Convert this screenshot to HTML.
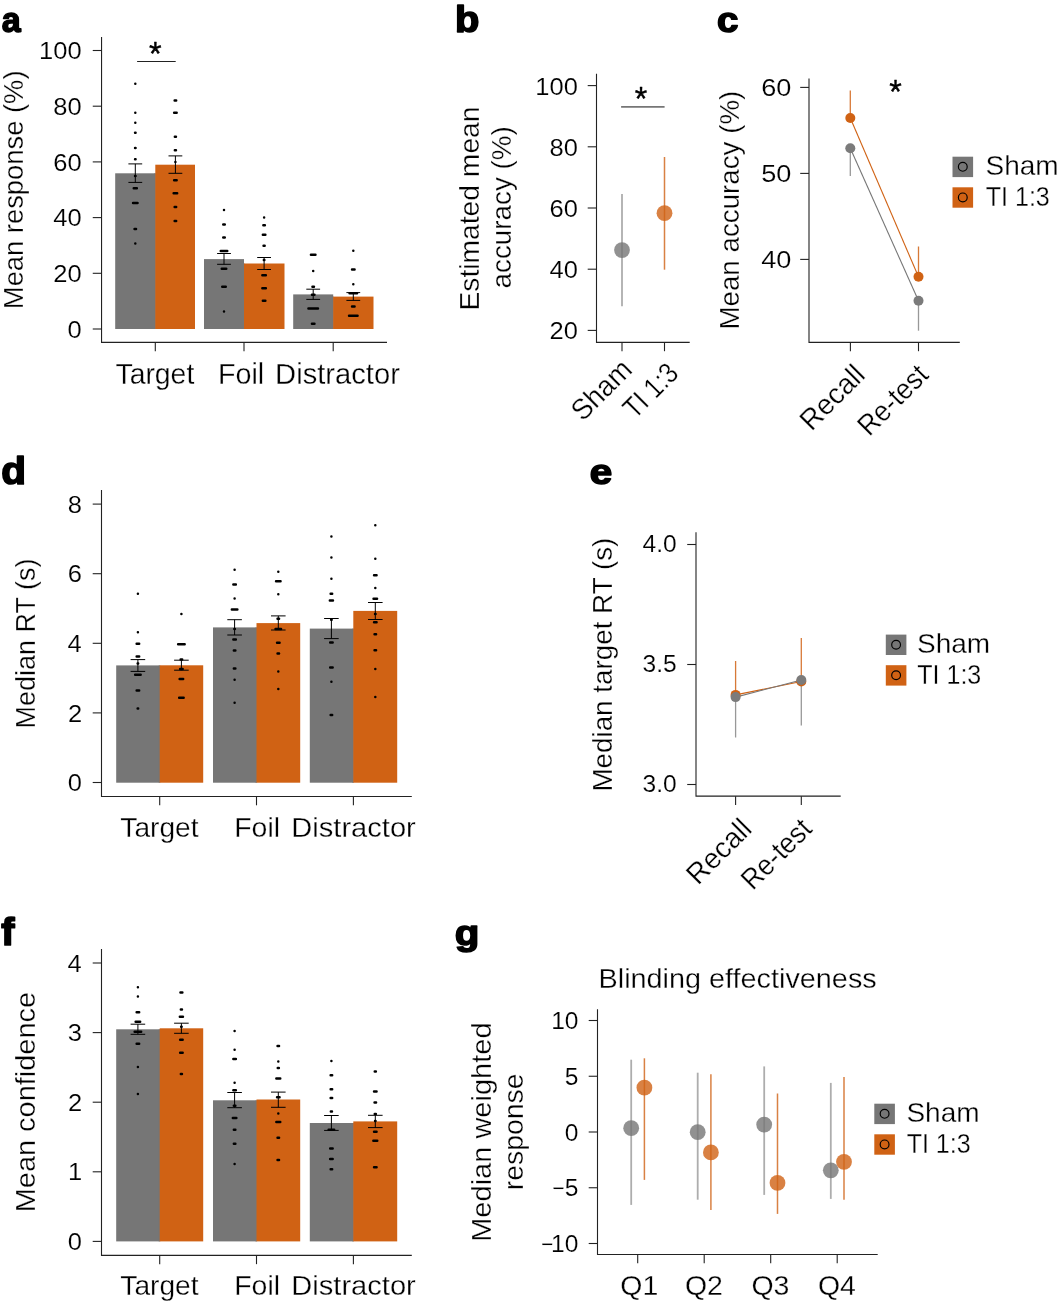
<!DOCTYPE html>
<html lang="en">
<head>
<meta charset="utf-8">
<title>Figure</title>
<style>
html,body{margin:0;padding:0;background:#fff;}
body{width:1058px;height:1302px;overflow:hidden;}
svg{display:block;}
svg text{font-family:"Liberation Sans",sans-serif;fill:#000;}
svg text.t{stroke:#fff;stroke-width:0.3px;}
svg text.k{stroke:#fff;stroke-width:0.14px;}
</style>
</head>
<body>
<svg width="1058" height="1302" viewBox="0 0 1058 1302">
<rect width="1058" height="1302" fill="#fff"/>
<text transform="translate(1.83 32.18) scale(0.9317 0.9591)" font-size="36.5" font-weight="700" stroke="#000" stroke-width="1.6" stroke-linejoin="round">a</text>
<text transform="translate(455.08 32.12) scale(1.0932 1.0131)" font-size="36.5" font-weight="700" stroke="#000" stroke-width="1.6" stroke-linejoin="round">b</text>
<text transform="translate(717 32.23) scale(1.0570 0.9614)" font-size="36.5" font-weight="700" stroke="#000" stroke-width="1.6" stroke-linejoin="round">c</text>
<text transform="translate(1.27 484.38) scale(1.1082 1.0448)" font-size="36.5" font-weight="700" stroke="#000" stroke-width="1.6" stroke-linejoin="round">d</text>
<text transform="translate(589.87 484.07) scale(1.1035 0.9683)" font-size="36.5" font-weight="700" stroke="#000" stroke-width="1.6" stroke-linejoin="round">e</text>
<text transform="translate(1.37 945.44) scale(1.0843 1.0726)" font-size="36.5" font-weight="700" stroke="#000" stroke-width="1.6" stroke-linejoin="round">f</text>
<text transform="translate(454.87 944.93) scale(1.1032 0.9664)" font-size="36.5" font-weight="700" stroke="#000" stroke-width="1.6" stroke-linejoin="round">g</text>
<rect x="115.2" y="173.3" width="40.1" height="155.7" fill="#767676"/>
<rect x="154.3" y="173.3" width="1.6" height="155.7" fill="#767676"/>
<rect x="155.3" y="164.7" width="39.7" height="164.3" fill="#d06214"/>
<rect x="204" y="259.1" width="40" height="69.9" fill="#767676"/>
<rect x="243" y="263.5" width="1.6" height="65.5" fill="#767676"/>
<rect x="244" y="263.5" width="40.5" height="65.5" fill="#d06214"/>
<rect x="293.2" y="294.4" width="40" height="34.6" fill="#767676"/>
<rect x="332.2" y="296.6" width="1.6" height="32.4" fill="#767676"/>
<rect x="333.2" y="296.6" width="40.3" height="32.4" fill="#d06214"/>
<path d="M101.55 37V342.4H387" fill="none" stroke="#222" stroke-width="1.1"/>
<line x1="92.75" y1="329" x2="101.55" y2="329" stroke="#222" stroke-width="1.1"/>
<text transform="translate(67.49 337.6) scale(1.1000 1)" font-size="23.2" class="k">0</text>
<line x1="92.75" y1="273.3" x2="101.55" y2="273.3" stroke="#222" stroke-width="1.1"/>
<text transform="translate(53.33 281.9) scale(1.1000 1)" font-size="23.2" class="k">20</text>
<line x1="92.75" y1="217.6" x2="101.55" y2="217.6" stroke="#222" stroke-width="1.1"/>
<text transform="translate(53.33 226.2) scale(1.1000 1)" font-size="23.2" class="k">40</text>
<line x1="92.75" y1="161.9" x2="101.55" y2="161.9" stroke="#222" stroke-width="1.1"/>
<text transform="translate(53.33 170.5) scale(1.1000 1)" font-size="23.2" class="k">60</text>
<line x1="92.75" y1="106.2" x2="101.55" y2="106.2" stroke="#222" stroke-width="1.1"/>
<text transform="translate(53.33 114.8) scale(1.1000 1)" font-size="23.2" class="k">80</text>
<line x1="92.75" y1="50.5" x2="101.55" y2="50.5" stroke="#222" stroke-width="1.1"/>
<text transform="translate(39.1 59.1) scale(1.1000 1)" font-size="23.2" class="k">100</text>
<line x1="155.3" y1="342.4" x2="155.3" y2="351.2" stroke="#222" stroke-width="1.1"/>
<line x1="244" y1="342.4" x2="244" y2="351.2" stroke="#222" stroke-width="1.1"/>
<line x1="333.2" y1="342.4" x2="333.2" y2="351.2" stroke="#222" stroke-width="1.1"/>
<path d="M128.4 163.9H142.2M128.4 182.4H142.2M135.3 163.9V182.4" fill="none" stroke="#000" stroke-width="1"/>
<path d="M168.5 155.9H182.3M168.5 173.3H182.3M175.4 155.9V173.3" fill="none" stroke="#000" stroke-width="1"/>
<path d="M217.1 253.5H230.9M217.1 264.3H230.9M224 253.5V264.3" fill="none" stroke="#000" stroke-width="1"/>
<path d="M257.2 257.5H271M257.2 269.5H271M264.1 257.5V269.5" fill="none" stroke="#000" stroke-width="1"/>
<path d="M306.3 289.2H320.1M306.3 299.4H320.1M313.2 289.2V299.4" fill="none" stroke="#000" stroke-width="1"/>
<path d="M346.4 292.6H360.2M346.4 300.4H360.2M353.3 292.6V300.4" fill="none" stroke="#000" stroke-width="1"/>
<path d="M135.3 83.76h0.01M135.3 112.81h0.01M135.3 122.83h0.01M135.05 132.85h0.51M135.05 147.88h0.51M135.05 159.3h0.51M135.05 175.93h0.51M133.74 188.36h3.11M133.04 202.98h4.51M134.55 229.03h1.51M135.3 243.46h0.01" fill="none" stroke="#000" stroke-width="2.5" stroke-linecap="round"/>
<path d="M174.65 100.59h1.51M174.15 112.81h2.51M174.85 136.86h1.11M174.85 150.28h1.11M175.4 161.91h0.01M174.15 180.34h2.51M173.64 193.36h3.51M174.65 206.99h1.51M174.65 221.02h1.51" fill="none" stroke="#000" stroke-width="2.5" stroke-linecap="round"/>
<path d="M224 210.02h0.01M223.25 224.45h1.51M223.25 237.47h1.51M220.74 251.1h6.52M221.74 268.73h4.51M222.24 286.76h3.51M224 311.61h0.01" fill="none" stroke="#000" stroke-width="2.5" stroke-linecap="round"/>
<path d="M264.1 217.43h0.01M263.35 225.25h1.51M262.85 234.67h2.51M263.55 245.69h1.11M263.85 259.91h0.51M262.34 275.34h3.51M262.34 288.17h3.51M262.85 300.79h2.51" fill="none" stroke="#000" stroke-width="2.5" stroke-linecap="round"/>
<path d="M310.94 254.7h4.51M313.2 270.93h0.01M312.45 286.76h1.51M311.95 294.78h2.51M308.44 308.6h9.52M311.95 323.83h2.51" fill="none" stroke="#000" stroke-width="2.5" stroke-linecap="round"/>
<path d="M353.3 250.7h0.01M352.05 269.53h2.51M353.3 284.16h0.01M349.54 293.18h7.52M352.05 306.4h2.51M349.04 315.82h8.52" fill="none" stroke="#000" stroke-width="2.5" stroke-linecap="round"/>
<line x1="137.1" y1="61.5" x2="175.7" y2="61.5" stroke="#222" stroke-width="1.2"/>
<text transform="translate(148.93 65.1) scale(0.9641 1)" font-size="33.6" stroke="#000" stroke-width="0.4" stroke-linejoin="round">*</text>
<text transform="translate(115.46 384.3) scale(0.9781 1)" font-size="29" class="t">Target</text>
<text transform="translate(217.93 384.3) scale(0.9903 1)" font-size="29" class="t">Foil</text>
<text transform="translate(275.09 384.3) scale(1.0056 1)" font-size="29" class="t">Distractor</text>
<text transform="translate(23.1 309.16) rotate(-90) scale(0.9774 1)" font-size="28" class="t">Mean response (%)</text>
<path d="M596.5 73.7V342.4H689.7" fill="none" stroke="#222" stroke-width="1.1"/>
<line x1="587.7" y1="330.4" x2="596.5" y2="330.4" stroke="#222" stroke-width="1.1"/>
<text transform="translate(549.53 339.4) scale(1.1000 1)" font-size="23.2" class="k">20</text>
<line x1="587.7" y1="269.2" x2="596.5" y2="269.2" stroke="#222" stroke-width="1.1"/>
<text transform="translate(549.53 278.2) scale(1.1000 1)" font-size="23.2" class="k">40</text>
<line x1="587.7" y1="208" x2="596.5" y2="208" stroke="#222" stroke-width="1.1"/>
<text transform="translate(549.53 217) scale(1.1000 1)" font-size="23.2" class="k">60</text>
<line x1="587.7" y1="146.8" x2="596.5" y2="146.8" stroke="#222" stroke-width="1.1"/>
<text transform="translate(549.53 155.8) scale(1.1000 1)" font-size="23.2" class="k">80</text>
<line x1="587.7" y1="85.6" x2="596.5" y2="85.6" stroke="#222" stroke-width="1.1"/>
<text transform="translate(535.3 94.6) scale(1.1000 1)" font-size="23.2" class="k">100</text>
<line x1="622" y1="342.4" x2="622" y2="351.2" stroke="#222" stroke-width="1.1"/>
<line x1="664.5" y1="342.4" x2="664.5" y2="351.2" stroke="#222" stroke-width="1.1"/>
<line x1="621.1" y1="106.9" x2="664.6" y2="106.9" stroke="#767676" stroke-width="1.8"/>
<text transform="translate(634.64 110.2) scale(0.9557 1)" font-size="33.6" stroke="#000" stroke-width="0.4" stroke-linejoin="round">*</text>
<line x1="622" y1="194" x2="622" y2="306.2" stroke="#767676" stroke-width="1.8" stroke-opacity="0.6"/>
<circle cx="622" cy="250.1" r="7.9" fill="#767676" fill-opacity="0.8"/>
<line x1="664.5" y1="157" x2="664.5" y2="269.7" stroke="#d06214" stroke-width="1.5" stroke-opacity="0.8"/>
<circle cx="664.5" cy="213.2" r="7.9" fill="#d06214" fill-opacity="0.8"/>
<text transform="translate(478.5 310.53) rotate(-90) scale(1.0092 1)" font-size="28" class="t">Estimated mean</text>
<text transform="translate(511.2 288.38) rotate(-90) scale(0.9929 1)" font-size="28" class="t">accuracy (%)</text>
<text transform="translate(582.73 422.27) rotate(-45) scale(0.9508 1)" font-size="29" class="t">Sham</text>
<text transform="translate(634.82 419.98) rotate(-45) scale(0.8614 1)" font-size="29" class="t">TI 1:3</text>
<path d="M809 78.5V342.4H959.8" fill="none" stroke="#222" stroke-width="1.1"/>
<line x1="800.2" y1="259.4" x2="809" y2="259.4" stroke="#222" stroke-width="1.1"/>
<text transform="translate(761.19 267.5) scale(1.1700 1)" font-size="23.2" class="k">40</text>
<line x1="800.2" y1="173.4" x2="809" y2="173.4" stroke="#222" stroke-width="1.1"/>
<text transform="translate(761.19 181.5) scale(1.1700 1)" font-size="23.2" class="k">50</text>
<line x1="800.2" y1="87.4" x2="809" y2="87.4" stroke="#222" stroke-width="1.1"/>
<text transform="translate(761.19 95.5) scale(1.1700 1)" font-size="23.2" class="k">60</text>
<line x1="850.4" y1="342.4" x2="850.4" y2="351.2" stroke="#222" stroke-width="1.1"/>
<line x1="918.5" y1="342.4" x2="918.5" y2="351.2" stroke="#222" stroke-width="1.1"/>
<line x1="850.3" y1="148.2" x2="918.5" y2="300.8" stroke="#767676" stroke-width="1.1"/>
<line x1="850.3" y1="118" x2="918.5" y2="276.8" stroke="#d06214" stroke-width="1.1"/>
<line x1="850.3" y1="148.2" x2="850.3" y2="176" stroke="#767676" stroke-width="1.3" stroke-opacity="0.75"/>
<line x1="918.5" y1="300.8" x2="918.5" y2="330.7" stroke="#767676" stroke-width="1.3" stroke-opacity="0.75"/>
<line x1="850.3" y1="90.4" x2="850.3" y2="118" stroke="#d06214" stroke-width="1.3" stroke-opacity="0.85"/>
<line x1="918.5" y1="246.5" x2="918.5" y2="276.8" stroke="#d06214" stroke-width="1.3" stroke-opacity="0.85"/>
<circle cx="850.3" cy="118" r="5" fill="#d06214"/>
<circle cx="850.3" cy="148.2" r="5" fill="#7b7b7b"/>
<circle cx="918.5" cy="276.8" r="5" fill="#d06214"/>
<circle cx="918.5" cy="300.8" r="5" fill="#7b7b7b"/>
<text transform="translate(889.34 103.3) scale(0.9557 1)" font-size="33.6" stroke="#000" stroke-width="0.4" stroke-linejoin="round">*</text>
<text transform="translate(738.6 329.59) rotate(-90) scale(0.9912 1)" font-size="28" class="t">Mean accuracy (%)</text>
<text transform="translate(811.41 431.89) rotate(-45) scale(0.9689 1)" font-size="29" class="t">Recall</text>
<text transform="translate(869.13 437.27) rotate(-45) scale(0.9203 1)" font-size="29" class="t">Re-test</text>
<rect x="952.5" y="156.7" width="20.6" height="20.4" fill="#767676"/>
<rect x="952.5" y="187.3" width="20.6" height="20.4" fill="#d06214"/>
<circle cx="962.8" cy="166.8" r="4.4" fill="none" stroke="#000" stroke-width="1.15"/>
<circle cx="962.8" cy="197.4" r="4.4" fill="none" stroke="#000" stroke-width="1.15"/>
<text transform="translate(985.54 175.2)" font-size="28" class="t">Sham</text>
<text transform="translate(985.74 205.7) scale(0.8950 1)" font-size="28" class="t">TI 1:3</text>
<rect x="116.2" y="665.4" width="43.5" height="117.3" fill="#767676"/>
<rect x="158.7" y="665.4" width="1.6" height="117.3" fill="#767676"/>
<rect x="159.7" y="665.3" width="43.5" height="117.4" fill="#d06214"/>
<rect x="213" y="627.4" width="43.5" height="155.3" fill="#767676"/>
<rect x="255.5" y="627.4" width="1.6" height="155.3" fill="#767676"/>
<rect x="256.5" y="623.1" width="43.7" height="159.6" fill="#d06214"/>
<rect x="309.8" y="628.6" width="43.5" height="154.1" fill="#767676"/>
<rect x="352.3" y="628.6" width="1.6" height="154.1" fill="#767676"/>
<rect x="353.3" y="610.9" width="43.9" height="171.8" fill="#d06214"/>
<path d="M101.5 490V796.5H411.8" fill="none" stroke="#222" stroke-width="1.1"/>
<line x1="92.7" y1="782.5" x2="101.5" y2="782.5" stroke="#222" stroke-width="1.1"/>
<text transform="translate(67.69 791.1) scale(1.1000 1)" font-size="23.2" class="k">0</text>
<line x1="92.7" y1="712.9" x2="101.5" y2="712.9" stroke="#222" stroke-width="1.1"/>
<text transform="translate(68.01 721.5) scale(1.1000 1)" font-size="23.2" class="k">2</text>
<line x1="92.7" y1="643.3" x2="101.5" y2="643.3" stroke="#222" stroke-width="1.1"/>
<text transform="translate(67.44 651.9) scale(1.1000 1)" font-size="23.2" class="k">4</text>
<line x1="92.7" y1="573.7" x2="101.5" y2="573.7" stroke="#222" stroke-width="1.1"/>
<text transform="translate(67.82 582.3) scale(1.1000 1)" font-size="23.2" class="k">6</text>
<line x1="92.7" y1="504.1" x2="101.5" y2="504.1" stroke="#222" stroke-width="1.1"/>
<text transform="translate(67.82 512.7) scale(1.1000 1)" font-size="23.2" class="k">8</text>
<line x1="159.7" y1="796.5" x2="159.7" y2="805.3" stroke="#222" stroke-width="1.1"/>
<line x1="256.5" y1="796.5" x2="256.5" y2="805.3" stroke="#222" stroke-width="1.1"/>
<line x1="353.4" y1="796.5" x2="353.4" y2="805.3" stroke="#222" stroke-width="1.1"/>
<path d="M130.6 659.6H145.2M130.6 671.4H145.2M137.9 659.6V671.4" fill="none" stroke="#000" stroke-width="1"/>
<path d="M174.1 660.2H188.7M174.1 670.2H188.7M181.4 660.2V670.2" fill="none" stroke="#000" stroke-width="1"/>
<path d="M227.3 619.7H241.9M227.3 635H241.9M234.6 619.7V635" fill="none" stroke="#000" stroke-width="1"/>
<path d="M271 615.9H285.6M271 630H285.6M278.3 615.9V630" fill="none" stroke="#000" stroke-width="1"/>
<path d="M324.1 618.5H338.7M324.1 638.6H338.7M331.4 618.5V638.6" fill="none" stroke="#000" stroke-width="1"/>
<path d="M368 602.5H382.6M368 619.5H382.6M375.3 602.5V619.5" fill="none" stroke="#000" stroke-width="1"/>
<path d="M137.9 593.87h0.01M137.9 632.34h0.01M136.65 643.77h2.51M136.65 656.39h2.51M137.65 663.4h0.51M135.14 674.82h5.52M136.65 690.45h2.51M137.65 708.49h0.51" fill="none" stroke="#000" stroke-width="2.5" stroke-linecap="round"/>
<path d="M181.4 613.91h0.01M178.14 644.37h6.52M180.65 659.4h1.51M180.15 669.01h2.51M179.64 679.03h3.51M179.14 697.67h4.51" fill="none" stroke="#000" stroke-width="2.5" stroke-linecap="round"/>
<path d="M234.6 569.83h0.01M233.35 584.45h2.51M234.6 598.48h0.01M231.84 609.5h5.52M234.35 628.94h0.51M233.35 639.56h2.51M233.85 650.38h1.51M233.85 668.41h1.51M234.6 679.63h0.01M234.6 702.68h0.01" fill="none" stroke="#000" stroke-width="2.5" stroke-linecap="round"/>
<path d="M278.3 571.63h0.01M276.04 581.25h4.51M278.3 594.27h0.01M277.55 618.72h1.51M275.54 628.94h5.52M277.05 642.76h2.51M277.55 653.38h1.51M278.3 671.42h0.01M278.3 689.05h0.01" fill="none" stroke="#000" stroke-width="2.5" stroke-linecap="round"/>
<path d="M331.4 536.56h0.01M331.4 557.4h0.01M331.4 578.64h0.01M330.65 593.87h1.51M329.84 600.48h3.11M331.15 619.72h0.51M330.15 642.56h2.51M330.15 667.41h2.51M331.4 681.84h0.01M330.65 714.9h1.51" fill="none" stroke="#000" stroke-width="2.5" stroke-linecap="round"/>
<path d="M375.3 525.14h0.01M375.3 558.81h0.01M374.05 575.24h2.51M375.3 588.06h0.01M373.54 598.68h3.51M375.05 613.91h0.51M374.05 622.33h2.51M374.55 634.15h1.51M374.55 650.18h1.51M375.3 669.01h0.01M375.3 697.07h0.01" fill="none" stroke="#000" stroke-width="2.5" stroke-linecap="round"/>
<text transform="translate(120.37 837.2) scale(0.9876 1)" font-size="28.5" class="t">Target</text>
<text transform="translate(234.25 837.2) scale(0.9981 1)" font-size="28.5" class="t">Foil</text>
<text transform="translate(291.3 837.2) scale(1.0216 1)" font-size="28.5" class="t">Distractor</text>
<text transform="translate(35.2 728.43) rotate(-90) scale(0.9636 1)" font-size="28" class="t">Median RT (s)</text>
<path d="M696 532.2V796.15H840.7" fill="none" stroke="#222" stroke-width="1.1"/>
<line x1="687.2" y1="784.5" x2="696" y2="784.5" stroke="#222" stroke-width="1.1"/>
<text transform="translate(642.54 792) scale(1.0600 1)" font-size="23.2" class="k">3.0</text>
<line x1="687.2" y1="664.5" x2="696" y2="664.5" stroke="#222" stroke-width="1.1"/>
<text transform="translate(642.6 672) scale(1.0600 1)" font-size="23.2" class="k">3.5</text>
<line x1="687.2" y1="544.5" x2="696" y2="544.5" stroke="#222" stroke-width="1.1"/>
<text transform="translate(642.54 552) scale(1.0600 1)" font-size="23.2" class="k">4.0</text>
<line x1="735.6" y1="796.15" x2="735.6" y2="804.95" stroke="#222" stroke-width="1.1"/>
<line x1="801.3" y1="796.15" x2="801.3" y2="804.95" stroke="#222" stroke-width="1.1"/>
<line x1="735.6" y1="694.9" x2="801.3" y2="681.5" stroke="#d06214" stroke-width="1.1"/>
<line x1="735.6" y1="697.1" x2="801.3" y2="680" stroke="#767676" stroke-width="1.1"/>
<line x1="735.6" y1="661" x2="735.6" y2="694.9" stroke="#d06214" stroke-width="1.3" stroke-opacity="0.85"/>
<line x1="801.3" y1="637.9" x2="801.3" y2="681.5" stroke="#d06214" stroke-width="1.3" stroke-opacity="0.85"/>
<line x1="735.6" y1="697.1" x2="735.6" y2="737.5" stroke="#767676" stroke-width="1.3" stroke-opacity="0.75"/>
<line x1="801.3" y1="680" x2="801.3" y2="725.4" stroke="#767676" stroke-width="1.3" stroke-opacity="0.75"/>
<circle cx="735.6" cy="694.9" r="5" fill="#d06214"/>
<circle cx="801.3" cy="681.5" r="5" fill="#d06214"/>
<circle cx="735.6" cy="697.1" r="5" fill="#7b7b7b"/>
<circle cx="801.3" cy="680" r="5" fill="#7b7b7b"/>
<text transform="translate(612.1 791.59) rotate(-90) scale(0.9934 1)" font-size="28" class="t">Median target RT (s)</text>
<text transform="translate(698.11 885.89) rotate(-45) scale(0.9689 1)" font-size="29" class="t">Recall</text>
<text transform="translate(752.73 891.27) rotate(-45) scale(0.9203 1)" font-size="29" class="t">Re-test</text>
<rect x="885.8" y="634.6" width="20.6" height="20.4" fill="#767676"/>
<rect x="885.8" y="665.2" width="20.6" height="20.4" fill="#d06214"/>
<circle cx="896.1" cy="644.7" r="4.4" fill="none" stroke="#000" stroke-width="1.15"/>
<circle cx="896.1" cy="675.3" r="4.4" fill="none" stroke="#000" stroke-width="1.15"/>
<text transform="translate(917.04 653.1)" font-size="28" class="t">Sham</text>
<text transform="translate(917.24 683.6) scale(0.8950 1)" font-size="28" class="t">TI 1:3</text>
<rect x="116.2" y="1029.3" width="43.5" height="212.1" fill="#767676"/>
<rect x="158.7" y="1029.3" width="1.6" height="212.1" fill="#767676"/>
<rect x="159.7" y="1028.3" width="43.5" height="213.1" fill="#d06214"/>
<rect x="213" y="1100.3" width="43.5" height="141.1" fill="#767676"/>
<rect x="255.5" y="1100.3" width="1.6" height="141.1" fill="#767676"/>
<rect x="256.5" y="1099.5" width="43.7" height="141.9" fill="#d06214"/>
<rect x="309.8" y="1123" width="43.5" height="118.4" fill="#767676"/>
<rect x="352.3" y="1123" width="1.6" height="118.4" fill="#767676"/>
<rect x="353.3" y="1121.4" width="43.9" height="120" fill="#d06214"/>
<path d="M101.5 949.1V1255.35H411.8" fill="none" stroke="#222" stroke-width="1.1"/>
<line x1="92.7" y1="1241.4" x2="101.5" y2="1241.4" stroke="#222" stroke-width="1.1"/>
<text transform="translate(67.69 1250) scale(1.1000 1)" font-size="23.2" class="k">0</text>
<line x1="92.7" y1="1171.8" x2="101.5" y2="1171.8" stroke="#222" stroke-width="1.1"/>
<text transform="translate(67.95 1180.4) scale(1.1000 1)" font-size="23.2" class="k">1</text>
<line x1="92.7" y1="1102.2" x2="101.5" y2="1102.2" stroke="#222" stroke-width="1.1"/>
<text transform="translate(68.01 1110.8) scale(1.1000 1)" font-size="23.2" class="k">2</text>
<line x1="92.7" y1="1032.6" x2="101.5" y2="1032.6" stroke="#222" stroke-width="1.1"/>
<text transform="translate(67.82 1041.2) scale(1.1000 1)" font-size="23.2" class="k">3</text>
<line x1="92.7" y1="963" x2="101.5" y2="963" stroke="#222" stroke-width="1.1"/>
<text transform="translate(67.44 971.6) scale(1.1000 1)" font-size="23.2" class="k">4</text>
<line x1="159.7" y1="1255.35" x2="159.7" y2="1264.15" stroke="#222" stroke-width="1.1"/>
<line x1="256.5" y1="1255.35" x2="256.5" y2="1264.15" stroke="#222" stroke-width="1.1"/>
<line x1="353.4" y1="1255.35" x2="353.4" y2="1264.15" stroke="#222" stroke-width="1.1"/>
<path d="M130.6 1024.2H145.2M130.6 1034.3H145.2M137.9 1024.2V1034.3" fill="none" stroke="#000" stroke-width="1"/>
<path d="M174.1 1023.2H188.7M174.1 1033.3H188.7M181.4 1023.2V1033.3" fill="none" stroke="#000" stroke-width="1"/>
<path d="M227.3 1092.5H241.9M227.3 1107.7H241.9M234.6 1092.5V1107.7" fill="none" stroke="#000" stroke-width="1"/>
<path d="M271 1092.1H285.6M271 1107.3H285.6M278.3 1092.1V1107.3" fill="none" stroke="#000" stroke-width="1"/>
<path d="M324.1 1115.5H338.7M324.1 1130.4H338.7M331.4 1115.5V1130.4" fill="none" stroke="#000" stroke-width="1"/>
<path d="M368 1115.3H382.6M368 1127.6H382.6M375.3 1115.3V1127.6" fill="none" stroke="#000" stroke-width="1"/>
<path d="M137.9 987.16h0.01M137.9 996.58h0.01M136.65 1012.21h2.51M135.64 1021.83h4.51M134.64 1031.65h6.52M136.65 1043.87h2.51M137.9 1066.91h0.01M137.9 1093.97h0.01" fill="none" stroke="#000" stroke-width="2.5" stroke-linecap="round"/>
<path d="M180.45 992.57h1.91M180.85 1009.61h1.11M179.84 1016.82h3.11M181.15 1026.64h0.51M180.15 1039.86h2.51M180.15 1052.69h2.51M180.85 1073.93h1.11" fill="none" stroke="#000" stroke-width="2.5" stroke-linecap="round"/>
<path d="M234.6 1031.05h0.01M234.6 1049.68h0.01M233.35 1059.1h2.51M234.6 1082.74h0.01M233.35 1090.36h2.51M233.85 1105.79h1.51M232.84 1118.01h3.51M233.85 1129.83h1.51M233.85 1143.86h1.51M234.6 1163.9h0.01" fill="none" stroke="#000" stroke-width="2.5" stroke-linecap="round"/>
<path d="M277.55 1046.08h1.51M278.3 1061.5h0.01M277.75 1067.92h1.11M276.34 1078.54h3.91M277.05 1097.17h2.51M278.3 1113.4h0.01M276.34 1122.02h3.91M277.55 1137.65h1.51M277.55 1160.09h1.51" fill="none" stroke="#000" stroke-width="2.5" stroke-linecap="round"/>
<path d="M331.4 1061.1h0.01M330.65 1075.13h1.51M330.65 1089.16h1.51M330.65 1097.97h1.51M330.85 1111.4h1.11M328.64 1129.83h5.52M330.15 1148.47h2.51M330.15 1158.89h2.51M330.65 1169.31h1.51" fill="none" stroke="#000" stroke-width="2.5" stroke-linecap="round"/>
<path d="M374.75 1071.52h1.11M374.05 1091.56h2.51M374.55 1102.38h1.51M374.75 1114h1.11M375.05 1121.02h0.51M374.05 1131.84h2.51M373.34 1140.65h3.91M374.05 1167.3h2.51" fill="none" stroke="#000" stroke-width="2.5" stroke-linecap="round"/>
<text transform="translate(120.37 1295) scale(0.9876 1)" font-size="28.5" class="t">Target</text>
<text transform="translate(234.25 1295) scale(0.9981 1)" font-size="28.5" class="t">Foil</text>
<text transform="translate(291.3 1295) scale(1.0216 1)" font-size="28.5" class="t">Distractor</text>
<text transform="translate(34.9 1212.29) rotate(-90) scale(1.0333 1)" font-size="28" class="t">Mean confidence</text>
<path d="M597.5 1009.3V1254.5H877.7" fill="none" stroke="#222" stroke-width="1.1"/>
<line x1="588.7" y1="1243.5" x2="597.5" y2="1243.5" stroke="#222" stroke-width="1.1"/>
<text class="k" transform="translate(541.34 1252.1) scale(1.0600 1)" font-size="23.2"><tspan textLength="11.36" lengthAdjust="spacingAndGlyphs">−</tspan><tspan dx="-2.13">10</tspan></text>
<line x1="588.7" y1="1187.75" x2="597.5" y2="1187.75" stroke="#222" stroke-width="1.1"/>
<text class="k" transform="translate(552.49 1196.35) scale(1.0600 1)" font-size="23.2"><tspan textLength="11.36" lengthAdjust="spacingAndGlyphs">−</tspan><tspan dx="0.29">5</tspan></text>
<line x1="588.7" y1="1132" x2="597.5" y2="1132" stroke="#222" stroke-width="1.1"/>
<text transform="translate(564.77 1140.6) scale(1.0600 1)" font-size="23.2" class="k">0</text>
<line x1="588.7" y1="1076.25" x2="597.5" y2="1076.25" stroke="#222" stroke-width="1.1"/>
<text transform="translate(564.84 1084.85) scale(1.0600 1)" font-size="23.2" class="k">5</text>
<line x1="588.7" y1="1020.5" x2="597.5" y2="1020.5" stroke="#222" stroke-width="1.1"/>
<text transform="translate(551.13 1029.1) scale(1.0600 1)" font-size="23.2" class="k">10</text>
<line x1="637.7" y1="1254.5" x2="637.7" y2="1263.3" stroke="#222" stroke-width="1.1"/>
<line x1="704.2" y1="1254.5" x2="704.2" y2="1263.3" stroke="#222" stroke-width="1.1"/>
<line x1="770.7" y1="1254.5" x2="770.7" y2="1263.3" stroke="#222" stroke-width="1.1"/>
<line x1="837.2" y1="1254.5" x2="837.2" y2="1263.3" stroke="#222" stroke-width="1.1"/>
<line x1="631.2" y1="1059.7" x2="631.2" y2="1204.9" stroke="#767676" stroke-width="1.8" stroke-opacity="0.6"/>
<circle cx="631.2" cy="1128.2" r="7.9" fill="#767676" fill-opacity="0.8"/>
<line x1="644.4" y1="1058.3" x2="644.4" y2="1179.9" stroke="#d06214" stroke-width="1.5" stroke-opacity="0.8"/>
<circle cx="644.4" cy="1087.7" r="7.9" fill="#d06214" fill-opacity="0.8"/>
<line x1="697.7" y1="1072.7" x2="697.7" y2="1199.7" stroke="#767676" stroke-width="1.8" stroke-opacity="0.6"/>
<circle cx="697.7" cy="1132.2" r="7.9" fill="#767676" fill-opacity="0.8"/>
<line x1="710.9" y1="1074.3" x2="710.9" y2="1209.9" stroke="#d06214" stroke-width="1.5" stroke-opacity="0.8"/>
<circle cx="710.9" cy="1152.4" r="7.9" fill="#d06214" fill-opacity="0.8"/>
<line x1="764.2" y1="1066.4" x2="764.2" y2="1194.9" stroke="#767676" stroke-width="1.8" stroke-opacity="0.6"/>
<circle cx="764.2" cy="1124.6" r="7.9" fill="#767676" fill-opacity="0.8"/>
<line x1="777.5" y1="1093.5" x2="777.5" y2="1213.9" stroke="#d06214" stroke-width="1.5" stroke-opacity="0.8"/>
<circle cx="777.5" cy="1182.9" r="7.9" fill="#d06214" fill-opacity="0.8"/>
<line x1="830.8" y1="1082.9" x2="830.8" y2="1198.9" stroke="#767676" stroke-width="1.8" stroke-opacity="0.6"/>
<circle cx="830.8" cy="1170.3" r="7.9" fill="#767676" fill-opacity="0.8"/>
<line x1="844" y1="1076.9" x2="844" y2="1199.7" stroke="#d06214" stroke-width="1.5" stroke-opacity="0.8"/>
<circle cx="844" cy="1161.8" r="7.9" fill="#d06214" fill-opacity="0.8"/>
<text transform="translate(598.52 988.2) scale(1.0225 1)" font-size="28.2" class="t">Blinding effectiveness</text>
<text transform="translate(490.9 1241.79) rotate(-90) scale(1.0365 1)" font-size="28" class="t">Median weighted</text>
<text transform="translate(523.1 1190.22) rotate(-90) scale(1.0137 1)" font-size="28" class="t">response</text>
<text transform="translate(620.25 1294.8)" font-size="28.5" class="t">Q1</text>
<text transform="translate(684.95 1294.8)" font-size="28.5" class="t">Q2</text>
<text transform="translate(751.45 1294.8)" font-size="28.5" class="t">Q3</text>
<text transform="translate(817.95 1294.8)" font-size="28.5" class="t">Q4</text>
<rect x="874.3" y="1103.7" width="20.6" height="20.4" fill="#767676"/>
<rect x="874.3" y="1134.3" width="20.6" height="20.4" fill="#d06214"/>
<circle cx="884.6" cy="1113.8" r="4.4" fill="none" stroke="#000" stroke-width="1.15"/>
<circle cx="884.6" cy="1144.4" r="4.4" fill="none" stroke="#000" stroke-width="1.15"/>
<text transform="translate(906.44 1122.2)" font-size="28" class="t">Sham</text>
<text transform="translate(906.64 1152.7) scale(0.8950 1)" font-size="28" class="t">TI 1:3</text>
</svg>
</body>
</html>
